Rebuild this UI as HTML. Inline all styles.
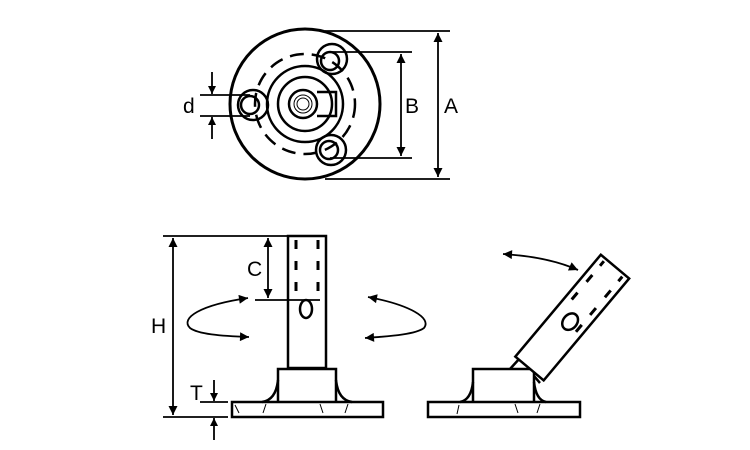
<!DOCTYPE html>
<html><head><meta charset="utf-8"><style>
html,body{margin:0;padding:0;background:#fff;}
svg{display:block}
text{font-family:"Liberation Sans",sans-serif;font-size:21px;fill:#000}
</style></head><body>
<svg width="750" height="450" viewBox="0 0 750 450" xmlns="http://www.w3.org/2000/svg">
<defs>
<marker id="ar" viewBox="0 0 10 10" refX="10" refY="5" markerWidth="10" markerHeight="8" markerUnits="userSpaceOnUse" orient="auto-start-reverse">
<path d="M0,0 L10,5 L0,10 z" fill="#000"/></marker>
<marker id="ar2" viewBox="0 0 10 10" refX="10" refY="5" markerWidth="16" markerHeight="9" markerUnits="userSpaceOnUse" orient="auto-start-reverse">
<path d="M0,0 L10,5 L0,10 z" fill="#000"/></marker>
</defs>
<g fill="none" stroke="#000" stroke-width="2.5">
<!-- top view -->
<circle cx="305" cy="104" r="75" stroke-width="3"/>
<circle cx="305" cy="104" r="50" stroke-dasharray="14,8"/>
<circle cx="305" cy="104" r="38"/>
<circle cx="305" cy="104" r="27"/>
<circle cx="303" cy="104" r="14"/>
<circle cx="303" cy="104" r="9" stroke-width="1"/>
<circle cx="303" cy="104" r="6" stroke-width="1"/>
<path d="M317,92 H336 V116 H317"/>
<circle cx="332" cy="59" r="15"/><circle cx="330" cy="61" r="9"/>
<circle cx="253" cy="105" r="15"/><circle cx="250" cy="105" r="9"/>
<circle cx="331" cy="150" r="15"/><circle cx="329" cy="150" r="9"/>
<g stroke-width="1.8">
<line x1="325" y1="31" x2="450" y2="31"/><line x1="325" y1="179" x2="450" y2="179"/>
<line x1="438" y1="33" x2="438" y2="177" marker-start="url(#ar2)" marker-end="url(#ar2)"/>
<line x1="330" y1="52" x2="412" y2="52"/><line x1="330" y1="158" x2="412" y2="158"/>
<line x1="401" y1="54" x2="401" y2="156" marker-start="url(#ar2)" marker-end="url(#ar2)"/>
<line x1="200" y1="95" x2="250" y2="95"/><line x1="200" y1="116" x2="250" y2="116"/>
<line x1="212" y1="72" x2="212" y2="94" marker-end="url(#ar)"/>
<line x1="212" y1="139" x2="212" y2="117" marker-end="url(#ar)"/>
</g>
<!-- front view -->
<rect x="288" y="236" width="38" height="132"/>
<path d="M278,402 V369 H336 V402"/>
<path d="M278,380 Q276,400 262,402 M336,380 Q338,400 352,402" />
<rect x="232" y="402" width="151" height="15"/>
<g stroke-width="1"><path d="M235,405 l4,8 M266,404 l-3,9 M320,404 l3,9 M348,404 l-3,9"/></g>
<g stroke-width="3"><path d="M296,240 v9 M318,240 v9 M296,261 v9 M318,261 v9 M296,282 v9 M318,282 v9"/></g>
<ellipse cx="306" cy="309" rx="6" ry="9"/>
<g stroke-width="1.8">
<line x1="163" y1="236" x2="288" y2="236"/><line x1="163" y1="417" x2="228" y2="417"/>
<line x1="173" y1="238" x2="173" y2="415" marker-start="url(#ar2)" marker-end="url(#ar2)"/>
<line x1="268" y1="238" x2="268" y2="298" marker-start="url(#ar2)" marker-end="url(#ar2)"/>
<line x1="255" y1="300" x2="320" y2="300"/>
<line x1="200" y1="402" x2="228" y2="402"/>
<line x1="214" y1="380" x2="214" y2="401" marker-end="url(#ar)"/>
<line x1="214" y1="440" x2="214" y2="418" marker-end="url(#ar)"/>
<path d="M248,298 C200,305 180,318 190,328 C198,334 220,336 249,337" marker-start="url(#ar2)" marker-end="url(#ar2)"/>
<path d="M368,297 C410,305 432,318 424,328 C416,334 394,336 365,338" marker-start="url(#ar2)" marker-end="url(#ar2)"/>
<path d="M503,254 C535,256 560,262 578,270" marker-start="url(#ar2)" marker-end="url(#ar2)"/>
</g>
<!-- side view -->
<rect x="428" y="402" width="152" height="15"/>
<path d="M473,402 V369 H534 V402"/>
<path d="M473,382 Q471,400 460,402 M534,382 Q536,400 546,402"/>
<g stroke-width="1"><path d="M459,405 l-2,9 M515,404 l3,9 M540,404 l-3,9"/></g>
<path d="M510,369 L520,358 M534,376 L540,383"/>
<g transform="translate(529.5,368.5) rotate(-50)">
<rect x="0" y="-18.5" width="133" height="37" fill="#fff"/>
<g stroke-width="3"><path d="M124,-12 h6 M124,12 h6 M103,-12 h9 M103,12 h9 M80,-12 h9 M80,12 h9 M58,12 h9"/></g>
<ellipse cx="62" cy="1" rx="9" ry="7"/>
</g>
</g>
<text x="183" y="113">d</text>
<text x="405" y="113">B</text>
<text x="444" y="113">A</text>
<text x="247" y="276">C</text>
<text x="151" y="333">H</text>
<text x="190" y="400">T</text>
</svg>
</body></html>
